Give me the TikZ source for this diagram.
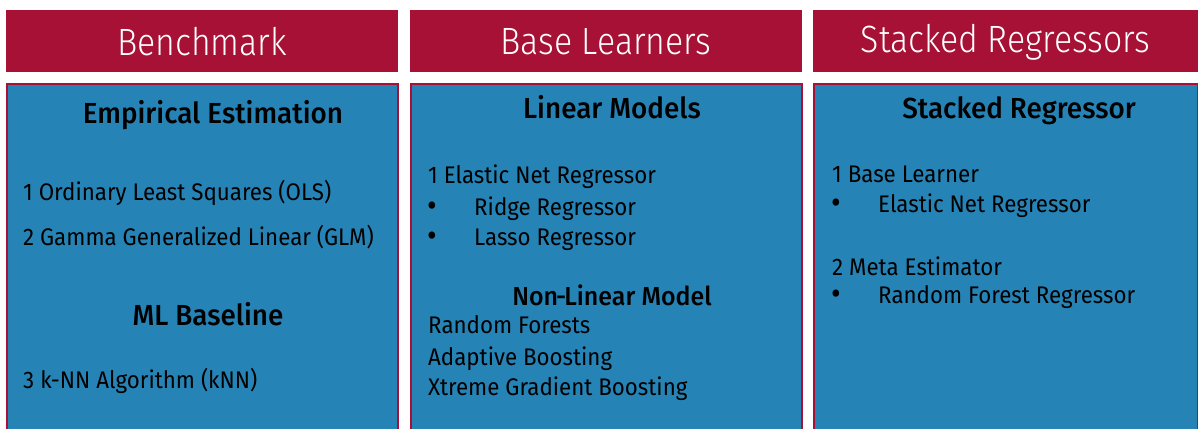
\documentclass[tikz,border=0pt]{standalone}
\usepackage{fontspec}
\setmainfont{Fira Sans}[FakeStretch=0.93]
\newfontfamily\headfont{Fira Sans Light}[FakeStretch=0.89]
\newfontfamily\titlefont{Fira Sans Medium}[FakeStretch=0.96]
\usetikzlibrary{positioning}
\definecolor{myRed}{RGB}{166,17,53}
\definecolor{myBlue}{RGB}{38,131,182}
\tikzset{
  head/.style={text=white, inner sep=0, font=\headfont\fontsize{38}{40}\selectfont},
  title/.style={anchor=base, inner sep=0, text=black, font=\titlefont\fontsize{29}{32}\selectfont},
  item/.style={anchor=base west, inner sep=0, text=black, font=\fontsize{24}{28}\selectfont},
  dot/.style={item, font=\fontsize{32}{32}\selectfont},
}

\begin{document}
\begin{tikzpicture}[x=1pt,y=-1pt]
	\useasboundingbox (0,0) rectangle (1198,428);
	% three columns: header bar and body box
	\foreach \l/\r/\name/\title in {6/398/bench/Benchmark, 410/802/base/Base Learners, 813/1198/stack/Stacked Regressors} {
		\fill[myRed] (\l,10) rectangle (\r,72);
		\node[head] (\name-head) at ({(\l+\r)/2},42) {\title};
		\draw[myRed, fill=myBlue, line width=1.5] (\l+1,84) rectangle (\r,432);
	}
	% Benchmark
	\node[title] (empirical) at (213,123) {Empirical Estimation};
	\node[item] (ols) at (23,200) {1 Ordinary Least Squares (OLS)};
	\node[item] (glm) at (23,245) {2 Gamma Generalized Linear (GLM)};
	\node[title] (mlbase) at (208,325) {ML Baseline};
	\node[item] (knn) at (23,388) {3 k-NN Algorithm (kNN)};
	% Base learners
	\node[title] (linear) at (612,118) {Linear Models};
	\node[item] (enet) at (428,183) {1 Elastic Net Regressor};
	\node[dot] (ridge-b) at (427,216) {\textbullet};
	\node[item] (ridge) at (474,215) {Ridge Regressor};
	\node[dot] (lasso-b) at (427,246) {\textbullet};
	\node[item] (lasso) at (474,245) {Lasso Regressor};
	\node[title, font=\titlefont\fontsize{26}{30}\selectfont] (nonlin) at (612,305) {Non\kern-2pt-\kern-2ptLinear Model};
	\node[item] (rf) at (428,333) {Random Forests};
	\node[item] (ada) at (428,365) {Adaptive Boosting};
	\node[item] (xgb) at (428,395) {Xtreme Gradient Boosting};
	% Stacked regressors
	\node[title] (stacked) at (1019,118) {Stacked Regressor};
	\node[item] (baselrn) at (832,182) {1 Base Learner};
	\node[dot] (enet2-b) at (831,213) {\textbullet};
	\node[item] (enet2) at (878,212) {Elastic Net Regressor};
	\node[item] (meta) at (832,275) {2 Meta Estimator};
	\node[dot] (rfr-b) at (831,304) {\textbullet};
	\node[item] (rfr) at (878,303) {Random Forest Regressor};
\end{tikzpicture}
\end{document}
